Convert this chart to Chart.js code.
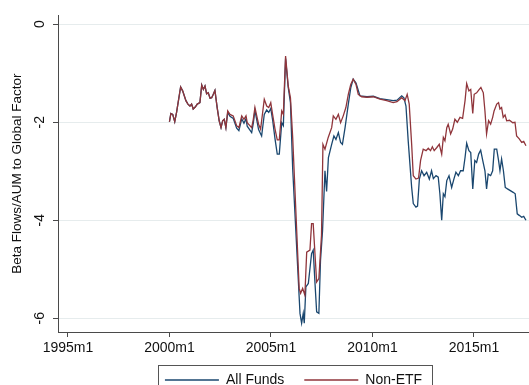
<!DOCTYPE html>
<html>
<head>
<meta charset="utf-8">
<script src="https://cdn.jsdelivr.net/npm/chart.js@4/dist/chart.umd.min.js"></script>
<style>
html,body{margin:0;padding:0;background:#fff;overflow:hidden;}
#wrap{position:relative;width:529px;height:397px;}
</style>
</head>
<body>
<div id="wrap"><canvas id="c"></canvas></div>
<script>
// ---- data (decimal years) ----
const xTickYears = [1995, 2000, 2005, 2010, 2015];
const xTickLabels = ['1995m1', '2000m1', '2005m1', '2010m1', '2015m1'];
const yTicks = [0, -2, -4, -6];
const seriesNames = ['All Funds', 'Non-ETF'];

const nonEtfDates = [2000.00,2000.07,2000.16,2000.26,2000.35,2000.55,2000.65,2000.81,2000.91,2001.01,2001.09,2001.17,2001.27,2001.37,2001.50,2001.59,2001.67,2001.75,2001.83,2001.91,2002.00,2002.08,2002.16,2002.24,2002.35,2002.45,2002.54,2002.62,2002.70,2002.78,
2002.87,2002.98,2003.14,2003.31,2003.42,2003.56,2003.67,2003.77,2003.83,2004.05,2004.13,2004.21,2004.30,2004.39,2004.49,2004.67,2004.79,2004.89,2004.99,2005.08,2005.20,2005.31,2005.41,2005.53,2005.61,2005.69,2005.72,2005.85,2005.96,2006.07,2006.39,2006.46,2006.56,2006.67,2006.76,2006.92,2007.00,2007.08,2007.25,2007.36,2007.49,2007.56,2007.66,2007.82,2007.99,2008.07,2008.20,2008.32,2008.43,2008.56,2008.69,2008.81,2008.93,2009.05,2009.19,2009.30,2009.47,2009.73,2010.04,2010.37,2010.70,2011.02,2011.21,2011.44,2011.60,2011.71,2011.81,2011.93,2012.01,2012.14,2012.27,2012.37,2012.50,2012.64,2012.75,2012.86,2012.95,2013.04,2013.16,2013.29,2013.41,2013.49,2013.57,2013.66,2013.73,2013.85,2013.95,2014.06,2014.18,2014.31,2014.44,2014.56,2014.64,2014.75,2014.84,2014.94,2015.01,2015.13,2015.26,2015.34,2015.46,2015.54,2015.62,2015.72,2015.82,2015.92,2015.99,2016.12,2016.21,2016.28,2016.36,2016.44,2016.53,2016.61,2016.75,2016.91,2017.02,2017.10,2017.23,2017.35,2017.45,2017.56];
const nonEtfValues = [-1.99,-1.82,-1.84,-1.99,-1.80,-1.28,-1.36,-1.56,-1.63,-1.67,-1.63,-1.73,-1.69,-1.63,-1.60,-1.24,-1.33,-1.26,-1.42,-1.40,-1.51,-1.50,-1.43,-1.35,-1.70,-1.97,-2.11,-1.97,-1.94,-2.11,
-1.77,-1.84,-1.87,-2.07,-2.11,-1.87,-1.94,-1.87,-2.01,-2.11,-1.94,-1.70,-1.87,-2.04,-2.14,-1.53,-1.67,-1.70,-1.60,-1.84,-2.14,-2.36,-2.36,-1.77,-1.84,-0.96,-0.65,-1.26,-1.50,-2.31,-5.39,-5.49,-5.39,-5.53,-4.65,-4.61,-4.07,-4.07,-5.26,-5.19,-4.30,-2.45,-2.55,-2.31,-2.11,-1.87,-1.94,-1.84,-2.01,-1.87,-1.70,-1.43,-1.23,-1.12,-1.23,-1.43,-1.48,-1.49,-1.48,-1.53,-1.56,-1.60,-1.58,-1.50,-1.56,-1.43,-1.63,-2.45,-3.09,-3.16,-3.14,-2.78,-2.55,-2.58,-2.53,-2.58,-2.50,-2.58,-2.52,-2.45,-2.65,-2.31,-2.38,-2.11,-2.04,-2.24,-2.14,-1.94,-2.00,-1.90,-1.92,-1.56,-1.21,-1.36,-1.33,-1.82,-1.43,-1.40,-1.33,-1.29,-1.40,-1.77,-2.24,-1.97,-2.04,-1.90,-1.77,-1.63,-1.60,-1.73,-1.70,-1.90,-1.85,-1.97,-1.96,-2.01,-2.00,-2.28,-2.34,-2.41,-2.39,-2.48];

const allFundsDates = [2000.00,2000.07,2000.16,2000.26,2000.35,2000.55,2000.65,2000.81,2000.91,2001.01,2001.09,2001.17,2001.27,2001.37,2001.50,2001.59,2001.67,2001.75,2001.83,2001.91,2002.00,2002.08,2002.16,2002.24,2002.35,2002.45,2002.54,2002.62,2002.70,2002.78,
2002.87,2002.98,2003.14,2003.31,2003.42,2003.56,2003.67,2003.77,2003.83,2004.05,2004.13,2004.21,2004.30,2004.39,2004.54,2004.67,2004.79,2004.89,2004.99,2005.08,2005.20,2005.31,2005.41,2005.53,2005.61,2005.69,2005.72,2005.85,2005.96,2006.07,2006.43,2006.51,2006.59,2006.64,2006.72,2006.84,2007.00,2007.08,2007.17,2007.25,2007.36,2007.44,2007.54,2007.66,2007.74,2007.83,2007.99,2008.10,2008.20,2008.32,2008.43,2008.52,2008.65,2008.81,2008.93,2009.05,2009.19,2009.38,2009.73,2010.04,2010.37,2010.70,2011.02,2011.21,2011.44,2011.55,2011.65,2011.76,2011.93,2012.01,2012.14,2012.22,2012.31,2012.42,2012.54,2012.67,2012.80,2012.91,2013.00,2013.13,2013.24,2013.32,2013.41,2013.49,2013.57,2013.66,2013.77,2013.90,2014.01,2014.11,2014.23,2014.34,2014.47,2014.56,2014.64,2014.75,2014.84,2014.94,2015.04,2015.13,2015.23,2015.33,2015.43,2015.54,2015.62,2015.70,2015.82,2015.92,2016.00,2016.12,2016.21,2016.28,2016.36,2016.45,2016.54,2016.65,2016.77,2016.93,2017.03,2017.13,2017.23,2017.35,2017.45,2017.56];
const allFundsValues = [-1.99,-1.82,-1.84,-1.99,-1.80,-1.28,-1.36,-1.56,-1.63,-1.67,-1.63,-1.73,-1.69,-1.63,-1.60,-1.24,-1.33,-1.26,-1.42,-1.40,-1.51,-1.50,-1.43,-1.35,-1.70,-1.97,-2.11,-1.97,-1.94,-2.11,
-1.80,-1.88,-1.92,-2.12,-2.17,-1.93,-2.02,-1.93,-2.08,-2.21,-2.02,-1.76,-1.95,-2.15,-2.28,-1.84,-1.75,-1.80,-1.72,-1.95,-2.34,-2.65,-2.65,-2.01,-2.07,-1.05,-0.70,-1.29,-1.60,-2.95,-5.90,-6.10,-5.90,-6.10,-5.36,-5.29,-4.68,-4.61,-5.29,-5.87,-5.90,-4.82,-4.22,-2.99,-3.41,-2.72,-2.45,-2.28,-2.35,-2.21,-2.41,-2.45,-2.11,-1.63,-1.30,-1.12,-1.20,-1.46,-1.48,-1.47,-1.52,-1.54,-1.56,-1.55,-1.46,-1.50,-1.67,-2.38,-3.33,-3.66,-3.73,-3.71,-3.16,-2.99,-3.09,-3.02,-3.16,-2.99,-3.15,-3.09,-3.12,-3.46,-4.00,-3.46,-3.52,-3.19,-3.09,-3.33,-3.16,-3.02,-3.09,-2.99,-2.99,-2.72,-2.43,-2.58,-2.62,-3.36,-2.78,-2.82,-2.65,-2.57,-2.78,-2.99,-3.36,-3.06,-3.09,-2.99,-2.55,-2.55,-2.78,-2.99,-2.75,-2.99,-3.33,-3.36,-3.39,-3.43,-3.46,-3.87,-3.90,-3.94,-3.92,-4.00];

const toPoints = (xs, ys) => xs.map((x, i) => ({x: x, y: ys[i]}));

const FONT = '"Liberation Sans", Arial, Helvetica, sans-serif';
const BLUE = '#1a476f';
const RED = '#90353b';
const AXIS = '#4a4a4a';

const legendFrame = {
  id: 'legendFrame',
  afterDraw(chart) {
    const lg = chart.legend;
    if (!lg || !lg.legendHitBoxes || !lg.legendHitBoxes.length) return;
    const hb = lg.legendHitBoxes;
    let l = Infinity, r = -Infinity, t = Infinity;
    hb.forEach(b => { l = Math.min(l, b.left); r = Math.max(r, b.left + b.width); t = Math.min(t, b.top); });
    const ctx = chart.ctx;
    ctx.save();
    ctx.strokeStyle = '#555';
    ctx.lineWidth = 1;
    ctx.strokeRect(Math.round(l - 7) + 0.5, Math.round(t - 8.5) + 0.5, Math.round(r - l + 17), 60);
    ctx.restore();
  }
};

new Chart(document.getElementById('c'), {
  type: 'line',
  data: {
    datasets: [
      { label: seriesNames[0], data: toPoints(allFundsDates, allFundsValues), borderColor: BLUE, backgroundColor: BLUE, borderWidth: 1.3, pointRadius: 0, tension: 0, order: 1 },
      { label: seriesNames[1], data: toPoints(nonEtfDates, nonEtfValues), borderColor: RED, backgroundColor: RED, borderWidth: 1.3, pointRadius: 0, tension: 0, order: 0 }
    ]
  },
  options: {
    responsive: true,
    maintainAspectRatio: false,
    animation: false,
    layout: { padding: { top: 14, left: 0, right: 0, bottom: 0 } },
    plugins: {
      tooltip: { enabled: false },
      legend: {
        position: 'bottom',
        fullSize: false,
        labels: {
          usePointStyle: true,
          pointStyle: 'line',
          pointStyleWidth: 54,
          padding: 20,
          color: '#111',
          font: { family: FONT, size: 14 },
          sort: (a, b) => a.datasetIndex - b.datasetIndex
        }
      }
    },
    scales: {
      x: {
        type: 'linear',
        min: 1994.51,
        max: 2017.71,
        afterBuildTicks: (s) => { s.ticks = xTickYears.map(v => ({ value: v })); },
        afterFit: (s) => { s.height = 21; },
        ticks: {
          callback: (v, i) => xTickLabels[i],
          color: '#111',
          font: { family: FONT, size: 14 },
          padding: 3,
          maxRotation: 0,
          autoSkip: false
        },
        grid: { drawOnChartArea: false, drawTicks: true, tickLength: 5, color: AXIS },
        border: { color: AXIS, width: 1 }
      },
      y: {
        min: -6.28,
        max: 0.18,
        afterBuildTicks: (s) => { s.ticks = yTicks.map(v => ({ value: v })); },
        afterFit: (s) => { s.width = 58; },
        ticks: {
          minRotation: 90,
          maxRotation: 90,
          crossAlign: 'center',
          padding: 7,
          color: '#111',
          font: { family: FONT, size: 14 }
        },
        grid: { color: '#e6eced', lineWidth: 1, tickColor: AXIS, tickLength: 5 },
        border: { color: AXIS, width: 1 },
        title: {
          display: true,
          text: 'Beta Flows/AUM to Global Factor',
          color: '#111',
          font: { family: FONT, size: 13.5 },
          padding: { top: 9, bottom: 0 }
        }
      }
    }
  },
  plugins: [legendFrame]
});
</script>
</body>
</html>
